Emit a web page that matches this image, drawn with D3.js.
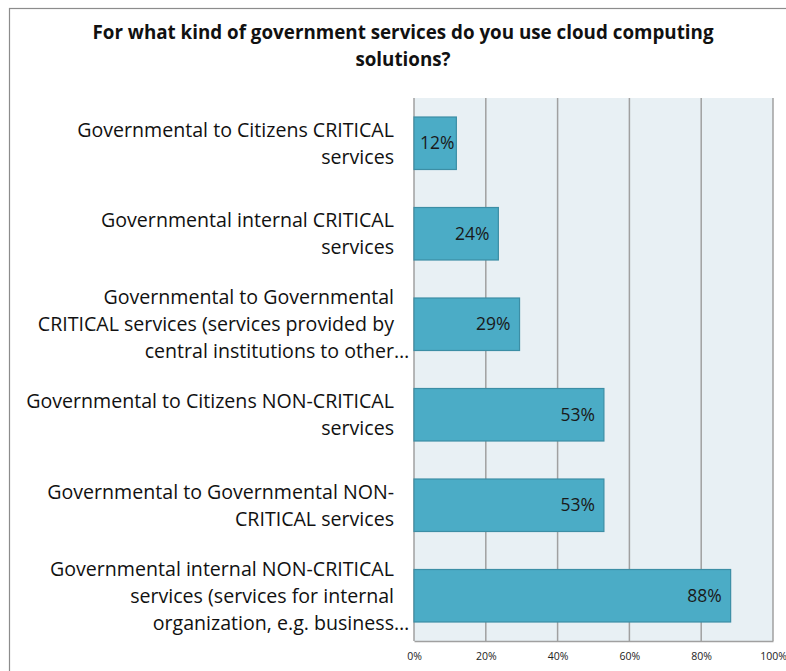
<!DOCTYPE html>
<html>
<head>
<meta charset="utf-8">
<script src="https://cdn.jsdelivr.net/npm/d3@7"></script>
<style>
  body { margin: 0; background: #fff; }
  text { font-family: "Open Sans", "Noto Sans", sans-serif; }
</style>
</head>
<body>
<div id="chart"></div>
<script>
// categories, each split into its display lines (top to bottom)
var categories = [
  ["Governmental to Citizens CRITICAL", "services"],
  ["Governmental internal CRITICAL", "services"],
  ["Governmental to Governmental", "CRITICAL services (services provided by", "central institutions to other\u2026"],
  ["Governmental to Citizens NON-CRITICAL", "services"],
  ["Governmental to Governmental NON-", "CRITICAL services"],
  ["Governmental internal NON-CRITICAL", "services (services for internal", "organization, e.g. business\u2026"]
];
var values = [11.8, 23.5, 29.4, 52.9, 52.9, 88.2];
var ticks = [0, 20, 40, 60, 80, 100];
var titleLines = ["For what kind of government services do you use cloud computing", "solutions?"];

var W = 786, H = 671;
var margin = {top: 98, right: 13, bottom: 30, left: 414};
var width = W - margin.left - margin.right,
    height = H - margin.top - margin.bottom;

var svg = d3.select("#chart")
  .append("svg")
    .attr("width", W)
    .attr("height", H);

// outer chart frame
svg.append("rect")
  .attr("x", 9.5).attr("y", 8.5)
  .attr("width", W).attr("height", H)
  .attr("fill", "none")
  .attr("stroke", "#8c8c8c")
  .attr("stroke-width", 1.2);

// title
svg.append("text")
  .attr("x", 403)
  .attr("y", 39)
  .attr("text-anchor", "middle")
  .attr("font-size", "18.8px")
  .attr("font-weight", "bold")
  .attr("fill", "#111")
  .selectAll("tspan")
  .data(titleLines)
  .enter()
  .append("tspan")
    .attr("x", 403)
    .attr("dy", function(d, i) { return i === 0 ? 0 : 27; })
    .text(function(d) { return d; });

var g = svg.append("g")
  .attr("transform", "translate(" + margin.left + "," + margin.top + ")");

var x = d3.scaleLinear()
  .domain([0, 100])
  .range([0, width]);

var y = d3.scaleBand()
  .domain(d3.range(categories.length))
  .range([0, height])
  .paddingInner(0.42)
  .paddingOuter(0.21);

// plot background
g.append("rect")
  .attr("width", width)
  .attr("height", height)
  .attr("fill", "#e8f0f4");

// gridlines
g.append("g")
  .selectAll("line")
  .data(ticks.slice(1))
  .enter()
  .append("line")
    .attr("x1", function(d) { return x(d); })
    .attr("x2", function(d) { return x(d); })
    .attr("y1", 0)
    .attr("y2", height)
    .attr("stroke", "#a0a0a0")
    .attr("stroke-width", 1.5);

// x axis
var xAxis = g.append("g")
  .attr("transform", "translate(0," + height + ")")
  .call(d3.axisBottom(x)
    .tickValues(ticks)
    .tickSize(0)
    .tickPadding(12)
    .tickFormat(function(d) { return d + "%"; }));
xAxis.select(".domain").attr("stroke", "#a0a0a0").attr("stroke-width", 1.5);
xAxis.selectAll("text")
  .attr("font-size", "10.5px")
  .attr("fill", "#222")
  .style("font-family", "'Open Sans', sans-serif");

// left axis line
g.append("line")
  .attr("x1", 0).attr("x2", 0)
  .attr("y1", 0).attr("y2", height)
  .attr("stroke", "#a0a0a0")
  .attr("stroke-width", 1.5);

// bars
g.append("g")
  .selectAll("rect")
  .data(values)
  .enter()
  .append("rect")
    .attr("x", x(0))
    .attr("y", function(d, i) { return y(i); })
    .attr("width", function(d) { return x(d) - x(0); })
    .attr("height", y.bandwidth())
    .attr("fill", "#4bacc6")
    .attr("stroke", "#3c8ea5")
    .attr("stroke-width", 1.2);

// data labels
var labels = g.append("g")
  .selectAll("text")
  .data(values)
  .enter()
  .append("text")
    .attr("y", function(d, i) { return y(i) + y.bandwidth() / 2; })
    .attr("dy", "0.35em")
    .attr("text-anchor", "end")
    .attr("font-size", "17.5px")
    .attr("fill", "#1a1a1a")
    .text(function(d) { return Math.round(d) + "%"; });
labels.attr("x", function(d) {
  var w = this.getComputedTextLength();
  return Math.max(x(d) - 9, x(0) + 6 + w);
});

// category labels
var lineH = 27;
categories.forEach(function(lines, i) {
  var cy = margin.top + y(i) + y.bandwidth() / 2;
  var y0 = cy - (lines.length - 1) * lineH / 2;
  lines.forEach(function(line, j) {
    var ell = line.slice(-1) === "\u2026";
    var body = ell ? line.slice(0, -1) : line;
    svg.append("text")
      .attr("x", 394)
      .attr("y", y0 + j * lineH)
      .attr("dy", "0.35em")
      .attr("text-anchor", "end")
      .attr("font-size", "19.6px")
      .attr("fill", "#111")
      .text(body);
    if (ell) {
      svg.append("text")
        .attr("x", 394)
        .attr("y", y0 + j * lineH)
        .attr("dy", "0.35em")
        .attr("font-size", "19.6px")
        .attr("fill", "#111")
        .text("\u2026");
    }
  });
});
</script>
</body>
</html>
